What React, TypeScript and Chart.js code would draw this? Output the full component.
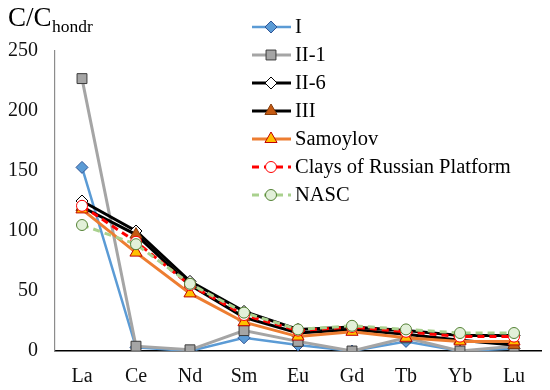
import React, { useEffect, useRef } from 'react';
import { Chart, registerables } from 'chart.js';

Chart.register(...registerables);

const categories = ['La', 'Ce', 'Nd', 'Sm', 'Eu', 'Gd', 'Tb', 'Yb', 'Lu'];
const seriesNames = ['I', 'II-1', 'II-6', 'III', 'Samoylov', 'Clays of Russian Platform', 'NASC'];
const valuesI = [153, 3, 0, 11, 5, 0, 8, 0, 2];
const valuesII1 = [227, 4, 1, 17, 8, 0, 11, 0, 4];
const valuesII6 = [125, 100, 58, 33, 18, 20, 17, 13, 13];
const valuesIII = [120, 97, 55, 28, 15, 18, 14, 9, 5];
const valuesSamoylov = [118, 82, 48, 24, 12, 16, 11, 8, 8];
const valuesClays = [121, 91, 55, 30, 17, 20, 16, 12, 12];
const valuesNASC = [105, 89, 56, 32, 18, 21, 18, 15, 15];
const yTicks = [0, 50, 100, 150, 200, 250];

const FONT = '"Liberation Serif", "Times New Roman", serif';

type Style = {
  line: string;
  fill: string;
  stroke: string;
  shape: 'rectRot' | 'rect' | 'triangle' | 'circle';
  radius: number;
  dash: number[];
  width: number;
};

const styles: Style[] = [
  { line: '#5B9BD5', fill: '#5B9BD5', stroke: '#2F5597', shape: 'rectRot', radius: 6, dash: [], width: 2.5 },
  { line: '#A5A5A5', fill: '#A5A5A5', stroke: '#3B3B3B', shape: 'rect', radius: 7, dash: [], width: 3 },
  { line: '#000000', fill: '#FFFFFF', stroke: '#000000', shape: 'rectRot', radius: 6, dash: [], width: 3 },
  { line: '#000000', fill: '#C55A11', stroke: '#843C0C', shape: 'triangle', radius: 7, dash: [], width: 3 },
  { line: '#ED7D31', fill: '#FFC000', stroke: '#C00000', shape: 'triangle', radius: 7, dash: [], width: 3 },
  { line: '#FF0000', fill: '#FFFFFF', stroke: '#FF0000', shape: 'circle', radius: 5.5, dash: [7, 5], width: 3 },
  { line: '#A9D18E', fill: '#E2F0D9', stroke: '#548235', shape: 'circle', radius: 5.5, dash: [7, 5], width: 3 },
];

const allValues = [valuesI, valuesII1, valuesII6, valuesIII, valuesSamoylov, valuesClays, valuesNASC];

function drawMarker(ctx: CanvasRenderingContext2D, s: Style, x: number, y: number) {
  const r = s.radius;
  ctx.save();
  ctx.setLineDash([]);
  ctx.beginPath();
  if (s.shape === 'rectRot') {
    ctx.moveTo(x, y - r);
    ctx.lineTo(x + r, y);
    ctx.lineTo(x, y + r);
    ctx.lineTo(x - r, y);
    ctx.closePath();
  } else if (s.shape === 'rect') {
    const h = r * Math.SQRT1_2;
    ctx.rect(x - h, y - h, 2 * h, 2 * h);
  } else if (s.shape === 'triangle') {
    ctx.moveTo(x, y - r);
    ctx.lineTo(x + r * Math.sin((2 * Math.PI) / 3), y - r * Math.cos((2 * Math.PI) / 3));
    ctx.lineTo(x - r * Math.sin((2 * Math.PI) / 3), y - r * Math.cos((2 * Math.PI) / 3));
    ctx.closePath();
  } else {
    ctx.arc(x, y, r, 0, Math.PI * 2);
  }
  ctx.fillStyle = s.fill;
  ctx.fill();
  ctx.lineWidth = 1;
  ctx.strokeStyle = s.stroke;
  ctx.stroke();
  ctx.restore();
}

const overlayPlugin = {
  id: 'overlay',
  afterDraw(chart: any) {
    const ctx: CanvasRenderingContext2D = chart.ctx;
    ctx.save();
    // title
    ctx.fillStyle = '#000';
    ctx.textBaseline = 'alphabetic';
    ctx.textAlign = 'left';
    ctx.font = `27px ${FONT}`;
    ctx.fillText('C/C', 8, 26);
    const w = ctx.measureText('C/C').width;
    ctx.font = `17.5px ${FONT}`;
    ctx.fillText('hondr', 8 + w + 0.5, 32);
    // legend
    const x0 = 252;
    const x1 = 291;
    const mx = 271;
    const y0 = 27;
    const step = 28;
    seriesNames.forEach((name, i) => {
      const s = styles[i];
      const y = y0 + i * step;
      ctx.save();
      ctx.strokeStyle = s.line;
      ctx.lineWidth = s.width;
      ctx.setLineDash(s.dash);
      ctx.beginPath();
      ctx.moveTo(x0, y);
      ctx.lineTo(x1, y);
      ctx.stroke();
      ctx.restore();
      drawMarker(ctx, s, mx, y);
      ctx.fillStyle = '#000';
      ctx.font = `20.5px ${FONT}`;
      ctx.textBaseline = 'middle';
      ctx.textAlign = 'left';
      ctx.fillText(name, 295, y + 1);
    });
    ctx.restore();
  },
};

export default function App() {
  const ref = useRef<HTMLCanvasElement | null>(null);
  useEffect(() => {
    if (!ref.current) return;
    const datasets = seriesNames.map((name, i) => {
      const s = styles[i];
      return {
        label: name,
        data: allValues[i],
        borderColor: s.line,
        borderWidth: s.width,
        borderDash: s.dash,
        backgroundColor: s.fill,
        pointStyle: s.shape,
        pointRadius: s.radius,
        pointBackgroundColor: s.fill,
        pointBorderColor: s.stroke,
        pointBorderWidth: 1,
        tension: 0,
        fill: false,
        order: seriesNames.length - i,
      };
    });
    const chart = new Chart(ref.current, {
      type: 'line',
      data: { labels: categories, datasets },
      plugins: [overlayPlugin],
      options: {
        animation: false,
        responsive: false,
        maintainAspectRatio: false,
        devicePixelRatio: 1,
        layout: { autoPadding: false, padding: { top: 51, right: 9, left: 0, bottom: 0 } },
        plugins: { legend: { display: false }, tooltip: { enabled: false }, title: { display: false } },
        scales: {
          x: {
            offset: true,
            grid: { display: false, drawTicks: false },
            border: { display: true, color: '#000', width: 1.5 },
            ticks: { color: '#111', font: { family: FONT, size: 20 }, padding: 14 },
            afterFit: (scale: any) => {
              scale.height = 39;
            },
          },
          y: {
            min: 0,
            max: 250,
            afterBuildTicks: (scale: any) => {
              scale.ticks = yTicks.map((v) => ({ value: v }));
            },
            grid: { display: false, drawTicks: false },
            border: { display: true, color: '#8C8C8C', width: 1.2 },
            ticks: { color: '#111', font: { family: FONT, size: 20 }, padding: 17 },
            afterFit: (scale: any) => {
              scale.width = 55;
            },
          },
        },
      },
    } as any);
    return () => chart.destroy();
  }, []);
  return (
    <div style={{ position: 'absolute', left: 0, top: 0, width: 550, height: 390, background: '#fff' }}>
      <canvas ref={ref} width={550} height={390} style={{ width: 550, height: 390, display: 'block' }} />
    </div>
  );
}
